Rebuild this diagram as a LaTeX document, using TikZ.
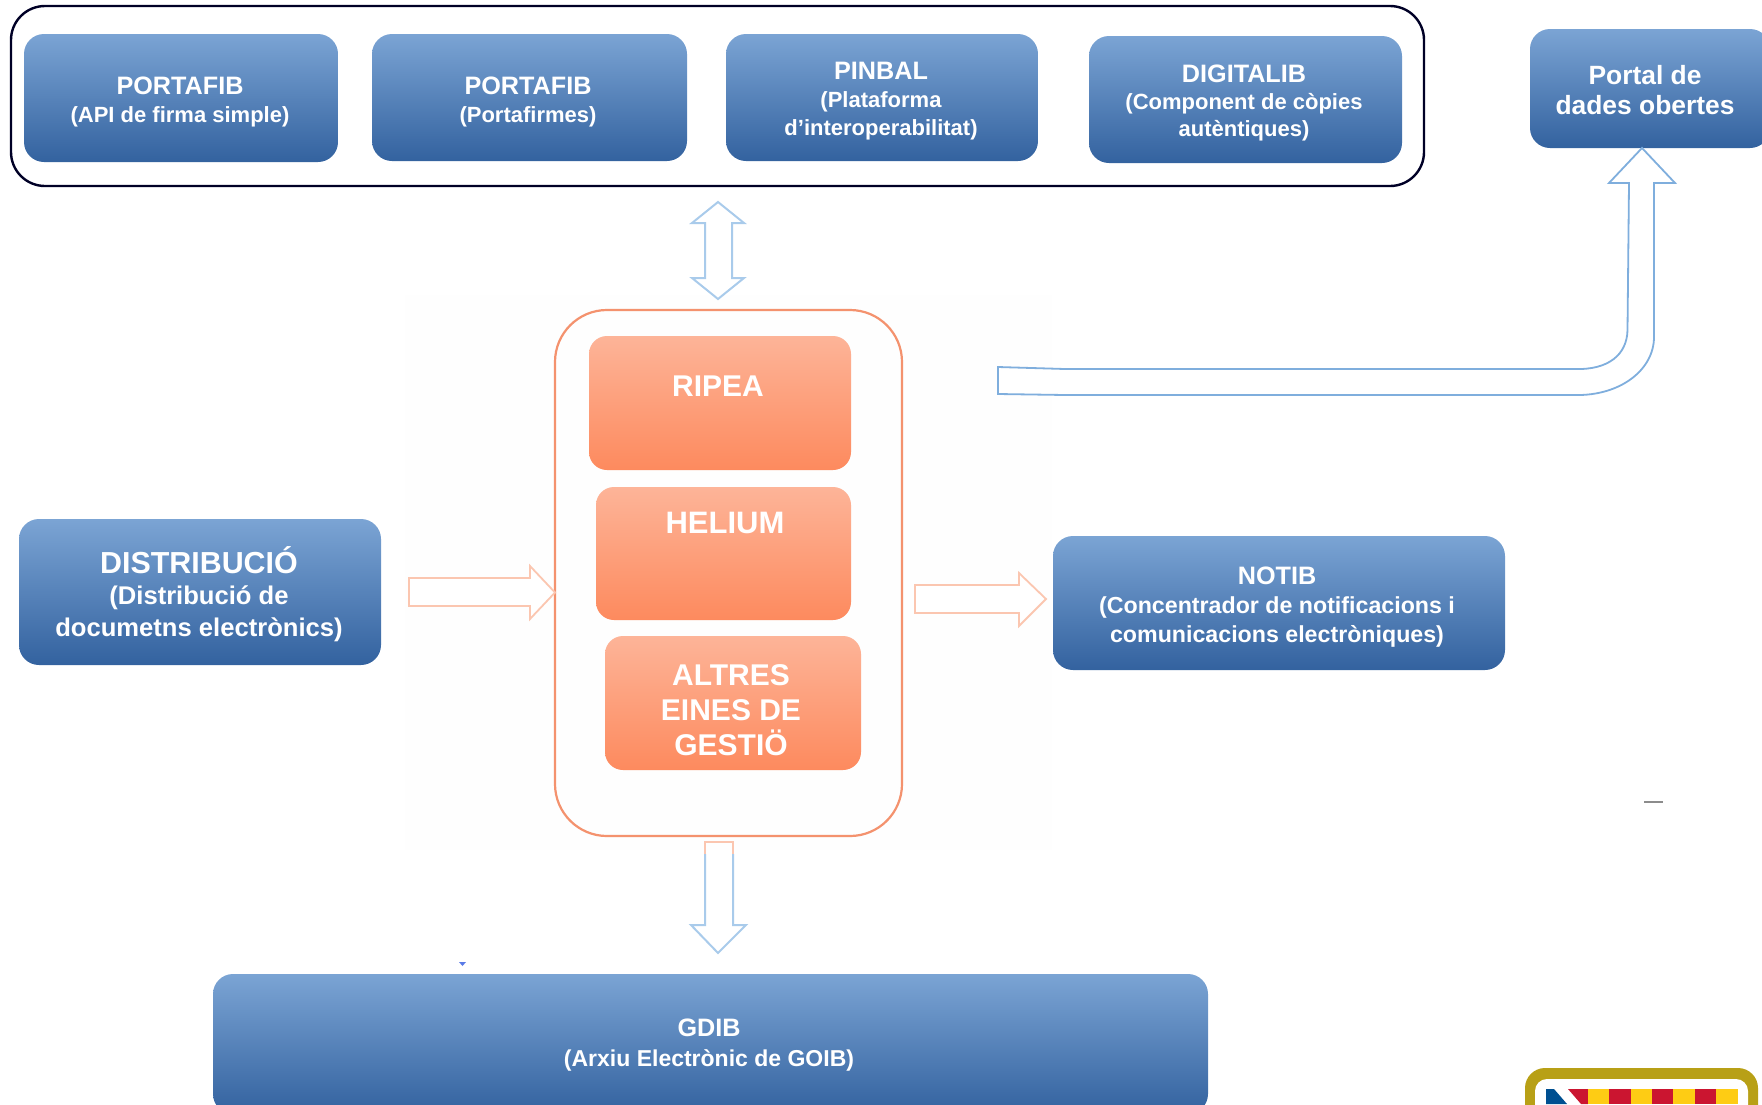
\documentclass[tikz,border=0pt]{standalone}
\usepackage{fontspec}
\setmainfont{Liberation Sans}
\usetikzlibrary{calc}
\definecolor{bluetop}{HTML}{7BA4D4}
\definecolor{bluebot}{HTML}{33629F}
\definecolor{orgtop}{HTML}{FDB498}
\definecolor{orgbot}{HTML}{FD8A5E}
\definecolor{orgline}{HTML}{F4926E}
\definecolor{arrblue}{HTML}{7FAEDD}
\definecolor{arrlight}{HTML}{A9CBEB}
\definecolor{arrorg}{HTML}{FBC6B0}
\definecolor{logogold}{HTML}{B8A016}
\definecolor{logoblue}{HTML}{005091}
\definecolor{logored}{HTML}{CB1530}
\definecolor{logoyel}{HTML}{FECC14}
\definecolor{faint}{HTML}{FEFEFE}
\newcommand{\ttl}{\fontsize{12.6}{14}\selectfont\bfseries}
\newcommand{\sbt}{\fontsize{11}{14}\selectfont\bfseries}
\newcommand{\lrg}{\fontsize{15.2}{16}\selectfont\bfseries}
\newcommand{\org}{\fontsize{15}{17}\selectfont\bfseries}
\newcommand{\dsb}{\fontsize{12.8}{15}\selectfont\bfseries}
\newcommand{\nsb}{\fontsize{11.6}{14}\selectfont\bfseries}
\newcommand{\pts}{\fontsize{13.2}{15}\selectfont\bfseries}
\tikzset{
 bluebox/.style={rectangle,rounded corners=10pt,top color=bluetop,bottom color=bluebot,draw=none,inner sep=0pt},
 orgbox/.style={rectangle,rounded corners=9pt,top color=orgtop,bottom color=orgbot,draw=none,inner sep=0pt},
 lbl/.style={text=white,align=center,inner sep=0pt},
 bskip/.style={font=\fontsize{10}{#1}\selectfont},
 blockblue/.style={draw=arrblue,line width=0.9pt,fill=white,line join=miter},
 blocklight/.style={draw=arrlight,line width=1pt,fill=white,line join=miter},
 blockorg/.style={draw=arrorg,line width=0.9pt,fill=white,line join=miter},
}
\begin{document}
\begin{tikzpicture}[x=0.5pt,y=-0.5pt]
\useasboundingbox (0,0) rectangle (1762,1104);
\clip (0,0) rectangle (1762,1104);
% faint backdrop
\fill[faint] (405,295) rectangle (1052,850);
% top container
\node[rectangle,rounded corners=17pt,draw=black!85!blue,line width=1.2pt,minimum width=706.5pt,minimum height=90pt] (topgroup) at (717.5,96) {};
% top boxes
\node[bluebox,minimum width=157pt,minimum height=64pt] (pf1) at (181,98) {};
\node[lbl,bskip=14] (pf1t) at (180,102) {{\ttl PORTAFIB}\\{\sbt (API de firma simple)}};
\node[bluebox,minimum width=157.5pt,minimum height=63.5pt] (pf2) at (529.5,97.5) {};
\node[lbl,bskip=14] (pf2t) at (528,102) {{\ttl PORTAFIB}\\{\sbt (Portafirmes)}};
\node[bluebox,minimum width=156pt,minimum height=63.5pt] (pinbal) at (882,97.5) {};
\node[lbl,bskip=14] (pinbalt) at (881,101) {{\ttl PINBAL}\\{\sbt (Plataforma}\\{\sbt d'interoperabilitat)}};
\node[bluebox,minimum width=156.5pt,minimum height=63.5pt] (digi) at (1245.5,99.5) {};
\node[lbl,bskip=13.5] (digit) at (1244,103) {{\ttl DIGITALIB}\\{\sbt (Component de còpies}\\{\sbt autèntiques)}};
\node[bluebox,minimum width=120pt,minimum height=59.5pt] (portal) at (1650,88.5) {};
\node[lbl,bskip=15] (portalt) at (1645,90) {{\pts Portal de}\\{\pts dades obertes}};
% centre group
\node[rectangle,rounded corners=26pt,draw=orgline,line width=1.1pt,minimum width=173.5pt,minimum height=263pt] (centre) at (728.5,573) {};
\node[orgbox,minimum width=131pt,minimum height=67pt] (ripea) at (720,403) {};
\node[lbl] (ripeat) at (718,386) {\org RIPEA};
\node[orgbox,minimum width=127.5pt,minimum height=66.5pt] (helium) at (723.5,553.5) {};
\node[lbl] (heliumt) at (725,523) {\fontsize{15.5}{17}\selectfont\bfseries HELIUM};
\node[orgbox,minimum width=128pt,minimum height=67pt] (altres) at (733,703) {};
\node[lbl,bskip=17.5] (altrest) at (731,710) {{\org ALTRES}\\{\org EINES DE}\\{\org GESTIÖ}};
% side and bottom boxes
\node[bluebox,minimum width=181pt,minimum height=73pt] (dist) at (200,592) {};
\node[lbl,bskip=15.7] (distt) at (199,594) {{\lrg DISTRIBUCIÓ}\\{\dsb (Distribució de}\\{\dsb documetns electrònics)}};
\node[bluebox,minimum width=226pt,minimum height=67pt] (notib) at (1279,603) {};
\node[lbl,bskip=14.5] (notibt) at (1277,607.5) {{\ttl NOTIB}\\{\nsb (Concentrador de notificacions i}\\{\nsb comunicacions electròniques)}};
\node[bluebox,minimum width=497.5pt,minimum height=70pt] (gdib) at (710.5,1044) {};
\node[lbl,bskip=15] (gdibt) at (709,1045) {{\ttl GDIB}\\{\fontsize{11.5}{14}\selectfont\bfseries (Arxiu Electrònic de GOIB)}};
% connector end points
\coordinate (dblA) at (718,202);
\coordinate (dblB) at (718,299);
\coordinate (inS) at (409,592.5);
\coordinate (inE) at (555,592.5);
\coordinate (outS) at (915,599);
\coordinate (outE) at (1046,599);
\coordinate (downS) at (719,842);
\coordinate (downE) at (718,953);
\coordinate (bendS) at (998,381);
\coordinate (bendE) at (1642,148);
% double arrow top
\draw[blocklight] (dblA) -- ($(dblA)+(26,21)$) -- ($(dblA)+(14,21)$) -- ($(dblB)+(14,-21)$) -- ($(dblB)+(26,-21)$) -- (dblB) -- ($(dblB)+(-26,-21)$) -- ($(dblB)+(-13,-21)$) -- ($(dblA)+(-13,21)$) -- ($(dblA)+(-26,21)$) -- cycle;
% input arrow
\draw[blockorg] (inE) -- ($(inE)+(-25,26.5)$) -- ($(inE)+(-25,13.5)$) -- ($(inS)+(0,13.5)$) -- ($(inS)+(0,-14.5)$) -- ($(inE)+(-25,-14.5)$) -- ($(inE)+(-25,-26.5)$) -- cycle;
% output arrow
\draw[blockorg] (outE) -- ($(outE)+(-27,27)$) -- ($(outE)+(-27,14)$) -- ($(outS)+(0,14)$) -- ($(outS)+(0,-14)$) -- ($(outE)+(-27,-14)$) -- ($(outE)+(-27,-26)$) -- cycle;
% down arrow
\draw[blocklight] ($(downS)+(14,12)$) -- ($(downE)+(15,-28)$) -- ($(downE)+(28,-28)$) -- (downE) -- ($(downE)+(-27,-28)$) -- ($(downE)+(-13,-28)$) -- ($(downS)+(-14,12)$);
\draw[arrorg,line width=0.8pt] ($(downS)+(-14,12)$) -- ($(downS)+(-14,0)$) -- ($(downS)+(14,0)$) -- ($(downS)+(14,12)$);
% bent arrow
\draw[blockblue] (bendE) -- (1675,183) -- (1654,183) -- (1654,337) .. controls (1654,370) and (1620,396) .. (1575,395) -- (1065,395) -- ($(bendS)+(0,13)$) -- ($(bendS)+(0,-14)$) -- (1065,369) -- (1575,369) .. controls (1608,370) and (1627,355) .. (1627.5,330) -- (1629,183) -- (1609,183) -- cycle;
% stray marks
\draw[black!45,line width=0.7pt] (1644,802) -- (1663,802);
\fill[arrblue!70!blue] (459,962) -- (466,962) -- (462.5,966) -- cycle;
% logo
\fill[logogold,rounded corners=10pt] (1525,1130) -- (1525,1068) -- (1758,1068) -- (1758,1130) -- cycle;
\fill[white,rounded corners=6pt] (1535,1130) -- (1535,1079) -- (1748,1079) -- (1748,1130) -- cycle;
\fill[logoblue] (1546,1089) -- (1554,1089) -- (1567,1104) -- (1546,1104) -- cycle;
\fill[logored] (1568,1089) -- (1588,1089) -- (1588,1104) -- (1581,1104) -- cycle;
\fill[logoyel] (1588,1089) rectangle (1609,1104);
\fill[logored] (1609,1089) rectangle (1631,1104);
\fill[logoyel] (1631,1089) rectangle (1652,1104);
\fill[logored] (1652,1089) rectangle (1673,1104);
\fill[logoyel] (1673,1089) rectangle (1695,1104);
\fill[logored] (1695,1089) rectangle (1716,1104);
\fill[logoyel] (1716,1089) rectangle (1738,1104);
\end{tikzpicture}
\end{document}
